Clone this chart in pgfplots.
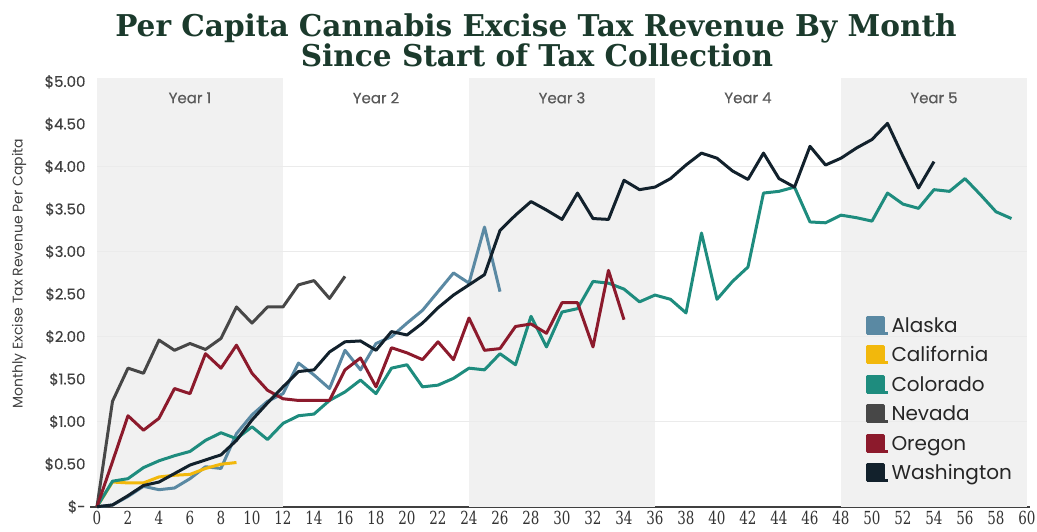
\documentclass[border=0pt]{standalone}
\usepackage{pgfplots}
\pgfplotsset{compat=1.18}
\usepackage{fontspec}
\setmainfont{Poppins}
\newfontfamily\semib{Poppins}[FakeBold=0.35]
\newfontfamily\titlefont{DejaVu Serif}[FakeStretch=0.985]
\newfontfamily\xfont{DejaVu Serif}[FakeStretch=0.75]
\definecolor{cAK}{HTML}{5A89A3}
\definecolor{cCA}{HTML}{F2B80C}
\definecolor{cCO}{HTML}{1E8C7E}
\definecolor{cNV}{HTML}{474747}
\definecolor{cOR}{HTML}{8C1A2C}
\definecolor{cWA}{HTML}{12212C}
\definecolor{titlec}{HTML}{1B3A2C}
\definecolor{band}{HTML}{F1F1F1}
\begin{document}
\begin{tikzpicture}
\path[use as bounding box] (-97pt,-24.3pt) rectangle (940pt,506.7pt);
\begin{axis}[
  at={(0pt,0pt)}, anchor=south west,
  scale only axis, width=930pt, height=425pt,
  xmin=0, xmax=60, ymin=0, ymax=5,
  clip=false,
  axis x line*=bottom, axis y line*=left,
  y axis line style={draw=none},
  x axis line style={draw=black!75, line width=1.6pt, shorten <=-7pt, shorten >=-3pt},
  xtick={0,2,...,60}, major tick length=0pt,
  /pgf/number format/assume math mode=true,
  xticklabel style={font=\xfont\fontsize{18}{18}\selectfont, text=black!80, yshift=-1pt},
  ytick={0,0.5,1,1.5,2,2.5,3,3.5,4,4.5,5},
  yticklabels={\$-\hspace{5pt},\$0.50,\$1.00,\$1.50,\$2.00,\$2.50,\$3.00,\$3.50,\$4.00,\$4.50,\$5.00},
  yticklabel style={font=\semib\fontsize{15}{15}\selectfont, text=black!75, xshift=-8pt},
  legend cell align=left,
  legend style={draw=none, fill=none, at={(axis cs:49.6,2.25)}, anchor=north west,
    font=\fontsize{20}{20}\selectfont, text=black!85, row sep=7pt, inner sep=0pt,
    nodes={inner sep=1.5pt, text height=15pt, text depth=4.5pt}},
  legend image code/.code={\fill[#1] (0pt,-6.25pt) rectangle (16pt,9.75pt); \path (0pt,-6.25pt) -- (21pt,-6.25pt);},
]
\fill[band] (axis cs:0,0) rectangle (axis cs:12,5.04);
\fill[band] (axis cs:24,0) rectangle (axis cs:36,5.04);
\fill[band] (axis cs:48,0) rectangle (axis cs:60,5.04);
\draw[black!8, line width=0.8pt] (axis cs:0,1) -- (axis cs:60,1);
\draw[black!8, line width=0.8pt] (axis cs:0,2) -- (axis cs:60,2);
\draw[black!8, line width=0.8pt] (axis cs:0,3) -- (axis cs:60,3);
\draw[black!8, line width=0.8pt] (axis cs:0,4) -- (axis cs:60,4);
\node[font=\semib\fontsize{15}{15}\selectfont, text=black!65] at (axis cs:6,4.81) {Year 1};
\node[font=\semib\fontsize{15}{15}\selectfont, text=black!65] at (axis cs:18,4.81) {Year 2};
\node[font=\semib\fontsize{15}{15}\selectfont, text=black!65] at (axis cs:30,4.81) {Year 3};
\node[font=\semib\fontsize{15}{15}\selectfont, text=black!65] at (axis cs:42,4.81) {Year 4};
\node[font=\semib\fontsize{15}{15}\selectfont, text=black!65] at (axis cs:54,4.81) {Year 5};

\addplot[color=cAK, line width=3pt, line join=round, mark=none] coordinates {
(0,0) (1,0.02) (2,0.12) (3,0.24) (4,0.20) (5,0.22) (6,0.33) (7,0.47) (8,0.45) (9,0.86)
(10,1.08) (11,1.24) (12,1.33) (13,1.69) (14,1.55) (15,1.39) (16,1.84) (17,1.61) (18,1.92)
(19,2.00) (20,2.16) (21,2.31) (22,2.53) (23,2.75) (24,2.63) (25,3.29) (26,2.53)};
\addlegendentry{Alaska}
\addplot[color=cCA, line width=3pt, line join=round, mark=none] coordinates {
(0,0) (1,0.29) (2,0.28) (3,0.28) (4,0.35) (5,0.37) (6,0.38) (7,0.45) (8,0.50) (9,0.52)};
\addlegendentry{California}
\addplot[color=cCO, line width=3pt, line join=round, mark=none] coordinates {
(0,0) (1,0.30) (2,0.33) (3,0.46) (4,0.54) (5,0.60) (6,0.65) (7,0.78) (8,0.87) (9,0.80)
(10,0.94) (11,0.79) (12,0.98) (13,1.07) (14,1.09) (15,1.25) (16,1.35) (17,1.49) (18,1.33)
(19,1.63) (20,1.67) (21,1.41) (22,1.43) (23,1.51) (24,1.63) (25,1.61) (26,1.80) (27,1.67)
(28,2.24) (29,1.88) (30,2.29) (31,2.33) (32,2.65) (33,2.63) (34,2.56) (35,2.41) (36,2.49)
(37,2.44) (38,2.28) (39,3.22) (40,2.44) (41,2.65) (42,2.82) (43,3.69) (44,3.71) (45,3.76)
(46,3.35) (47,3.34) (48,3.43) (49,3.40) (50,3.36) (51,3.69) (52,3.56) (53,3.51) (54,3.73)
(55,3.71) (56,3.86) (57,3.67) (58,3.47) (59,3.39)};
\addlegendentry{Colorado}
\addplot[color=cNV, line width=3pt, line join=round, mark=none] coordinates {
(0,0) (1,1.24) (2,1.63) (3,1.57) (4,1.96) (5,1.84) (6,1.92) (7,1.85) (8,1.98) (9,2.35)
(10,2.16) (11,2.35) (12,2.35) (13,2.61) (14,2.66) (15,2.45) (16,2.71)};
\addlegendentry{Nevada}
\addplot[color=cOR, line width=3pt, line join=round, mark=none] coordinates {
(0,0) (1,0.53) (2,1.07) (3,0.90) (4,1.04) (5,1.39) (6,1.33) (7,1.80) (8,1.63) (9,1.90)
(10,1.57) (11,1.37) (12,1.27) (13,1.25) (14,1.25) (15,1.25) (16,1.61) (17,1.75) (18,1.41)
(19,1.87) (20,1.81) (21,1.73) (22,1.94) (23,1.73) (24,2.22) (25,1.84) (26,1.86) (27,2.12)
(28,2.15) (29,2.04) (30,2.40) (31,2.40) (32,1.88) (33,2.78) (34,2.20)};
\addlegendentry{Oregon}
\addplot[color=cWA, line width=3pt, line join=round, mark=none] coordinates {
(0,0) (1,0.02) (2,0.13) (3,0.25) (4,0.29) (5,0.39) (6,0.49) (7,0.55) (8,0.61) (9,0.78)
(10,1.02) (11,1.22) (12,1.41) (13,1.59) (14,1.61) (15,1.82) (16,1.94) (17,1.95) (18,1.84)
(19,2.06) (20,2.02) (21,2.16) (22,2.34) (23,2.49) (24,2.61) (25,2.73) (26,3.25) (27,3.43)
(28,3.59) (29,3.49) (30,3.38) (31,3.69) (32,3.39) (33,3.38) (34,3.84) (35,3.73) (36,3.76)
(37,3.86) (38,4.02) (39,4.16) (40,4.10) (41,3.95) (42,3.85) (43,4.16) (44,3.86) (45,3.76)
(46,4.24) (47,4.02) (48,4.10) (49,4.22) (50,4.32) (51,4.51) (52,4.12) (53,3.75) (54,4.06)};
\addlegendentry{Washington}
\end{axis}
\node[anchor=base, font=\titlefont\bfseries\fontsize{30}{30}\selectfont, text=titlec] at (439pt,470pt) {Per Capita Cannabis Excise Tax Revenue By Month};
\node[anchor=base, font=\titlefont\bfseries\fontsize{30}{30}\selectfont, text=titlec] at (440pt,440pt) {Since Start of Tax Collection};
\node[rotate=90, font=\fontsize{14}{14}\selectfont, text=black!75] at (-78pt,233pt) {Monthly Excise Tax Revenue Per Capita};
\end{tikzpicture}
\end{document}
